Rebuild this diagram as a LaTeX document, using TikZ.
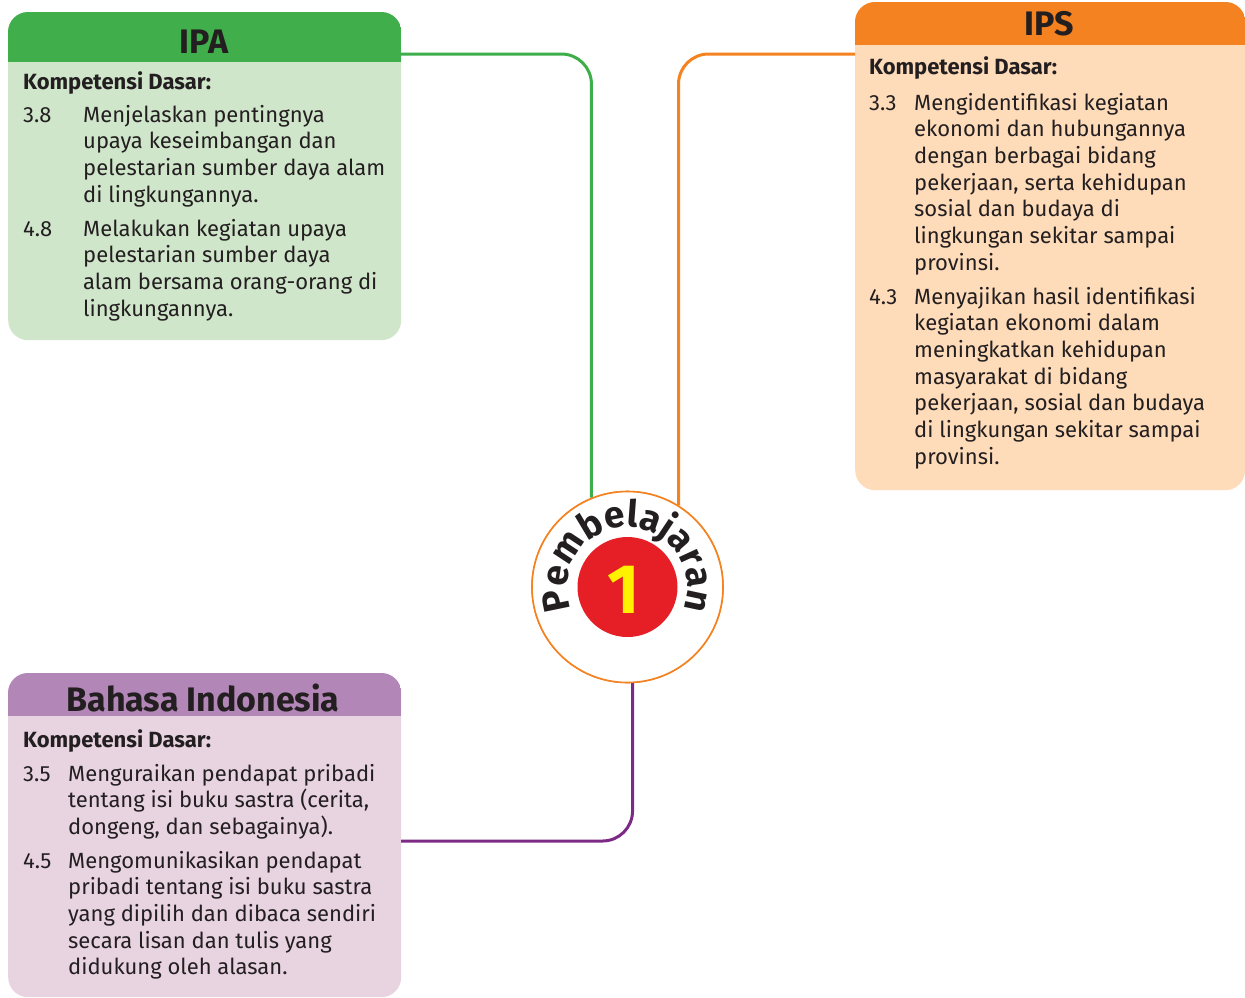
\documentclass[tikz,border=0pt]{standalone}
\usepackage{fontspec}
\setmainfont{Fira Sans}
\usetikzlibrary{decorations.text}
\definecolor{txtdark}{HTML}{231F20}
\definecolor{ipahead}{HTML}{40AE4A}
\definecolor{ipabody}{HTML}{D0E6CB}
\definecolor{ipshead}{HTML}{F58220}
\definecolor{ipsbody}{HTML}{FEDBB9}
\definecolor{bihead}{HTML}{B286B6}
\definecolor{bibody}{HTML}{E8D3E1}
\definecolor{greenline}{HTML}{3DAE49}
\definecolor{orangeline}{HTML}{F58220}
\definecolor{purpleline}{HTML}{7D2A87}
\definecolor{redone}{HTML}{E61E25}
\definecolor{yellowone}{HTML}{FFF200}
\newcommand{\bodyfont}{\fontsize{22}{26.7}\selectfont}
\newcommand{\pembfont}{\fontsize{37}{37}\selectfont\bfseries}
\begin{document}
\begin{tikzpicture}[x=1pt,y=-1pt,
  boxshape/.style={rectangle, rounded corners=20pt, inner sep=0pt, anchor=north west},
  titletxt/.style={font=\fontsize{34}{34}\selectfont\bfseries, text=txtdark, inner sep=0pt, anchor=base},
  kdtxt/.style={font=\fontsize{22}{26}\selectfont\bfseries, text=txtdark, inner sep=0pt, anchor=base west},
  numtxt/.style={font=\bodyfont, text=txtdark, inner sep=0pt, anchor=base west},
  bodytxt/.style={font=\bodyfont, text=txtdark, inner sep=0pt, anchor=base west},
  link/.style={line width=3pt, rounded corners=30pt}
]
\useasboundingbox (0,0) rectangle (1245,997);

% boxes
\node[boxshape, fill=ipabody, minimum width=393pt, minimum height=328pt] (ipa) at (8,12) {};
\node[boxshape, fill=ipsbody, minimum width=390pt, minimum height=488pt] (ips) at (855,2) {};
\node[boxshape, fill=bibody, minimum width=393pt, minimum height=324pt] (bi) at (8,673) {};

\begin{scope}
  \clip[rounded corners=20pt] (ipa.north west) rectangle (ipa.south east);
  \fill[ipahead] (ipa.north west) rectangle ([yshift=-50pt]ipa.north east);
\end{scope}
\begin{scope}
  \clip[rounded corners=20pt] (ips.north west) rectangle (ips.south east);
  \fill[ipshead] (ips.north west) rectangle ([yshift=-43pt]ips.north east);
\end{scope}
\begin{scope}
  \clip[rounded corners=20pt] (bi.north west) rectangle (bi.south east);
  \fill[bihead] (bi.north west) rectangle ([yshift=-43pt]bi.north east);
\end{scope}

% connectors
\node[circle, draw=orangeline, line width=1.6pt, fill=white, minimum size=191pt, inner sep=0pt] (c) at (627.5,587) {};
\coordinate (ipaout) at (401,54);
\coordinate (ipsout) at (855,54);
\coordinate (biout) at (401,841);
\draw[link, greenline] (ipaout) -| (c.112.5);
\draw[link, orangeline] (ipsout) -| (c.58.1);
\draw[link, purpleline] (biout) -| (c.-87.3);
\node[circle, draw=orangeline, line width=1.6pt, fill=white, minimum size=191pt, inner sep=0pt] (c2) at (c.center) {};

% centre badge
\node[circle, fill=redone, minimum size=100pt, inner sep=0pt] (red) at (c.center) {};
\node[font=\fontsize{70}{70}\selectfont\bfseries, text=yellowone, inner sep=0pt] (one) at (624,590) {1};
\begin{scope}[shift={(c.center)}, y=1pt]
  \path[decorate, decoration={text along path, text={|\pembfont|Pembelajaran}, text align=center, text color=txtdark}]
    (202:60) arc[start angle=202, end angle=-22, radius=60];
\end{scope}

% titles
\node[titletxt] (ipatitle) at (204,53) {IPA};
\node[titletxt] (ipstitle) at (1049,35) {IPS};
\node[titletxt] (bititle) at (203,711) {Bahasa Indonesia};

% IPA content
\node[kdtxt] (ipakd) at (23,89) {Kompetensi Dasar:};
\node[numtxt] (ipan1) at (23,122) {3.8};
\node[bodytxt] (ipat1) at (83,122) {\begin{tabular}[t]{@{}l@{}}Menjelaskan pentingnya\\upaya keseimbangan dan\\pelestarian sumber daya alam\\di lingkungannya.\end{tabular}};
\node[numtxt] (ipan2) at (23,236) {4.8};
\node[bodytxt] (ipat2) at (83,236) {\begin{tabular}[t]{@{}l@{}}Melakukan kegiatan upaya\\pelestarian sumber daya\\alam bersama orang-orang di\\lingkungannya.\end{tabular}};

% IPS content
\node[kdtxt] (ipskd) at (869,74) {Kompetensi Dasar:};
\node[numtxt] (ipsn1) at (869,110) {3.3};
\node[bodytxt] (ipst1) at (914,110) {\begin{tabular}[t]{@{}l@{}}Mengidentifikasi kegiatan\\ekonomi dan hubungannya\\dengan berbagai bidang\\pekerjaan, serta kehidupan\\sosial dan budaya di\\lingkungan sekitar sampai\\provinsi.\end{tabular}};
\node[numtxt] (ipsn2) at (869,304) {4.3};
\node[bodytxt] (ipst2) at (914,304) {\begin{tabular}[t]{@{}l@{}}Menyajikan hasil identifikasi\\kegiatan ekonomi dalam\\meningkatkan kehidupan\\masyarakat di bidang\\pekerjaan, sosial dan budaya\\di lingkungan sekitar sampai\\provinsi.\end{tabular}};

% Bahasa Indonesia content
\node[kdtxt] (bikd) at (23,747) {Kompetensi Dasar:};
\node[numtxt] (bin1) at (23,781) {3.5};
\node[bodytxt] (bit1) at (68,781) {\begin{tabular}[t]{@{}l@{}}Menguraikan pendapat pribadi\\tentang isi buku sastra (cerita,\\dongeng, dan sebagainya).\end{tabular}};
\node[numtxt] (bin2) at (23,868) {4.5};
\node[bodytxt] (bit2) at (68,868) {\begin{tabular}[t]{@{}l@{}}Mengomunikasikan pendapat\\pribadi tentang isi buku sastra\\yang dipilih dan dibaca sendiri\\secara lisan dan tulis yang\\didukung oleh alasan.\end{tabular}};
\end{tikzpicture}
\end{document}
